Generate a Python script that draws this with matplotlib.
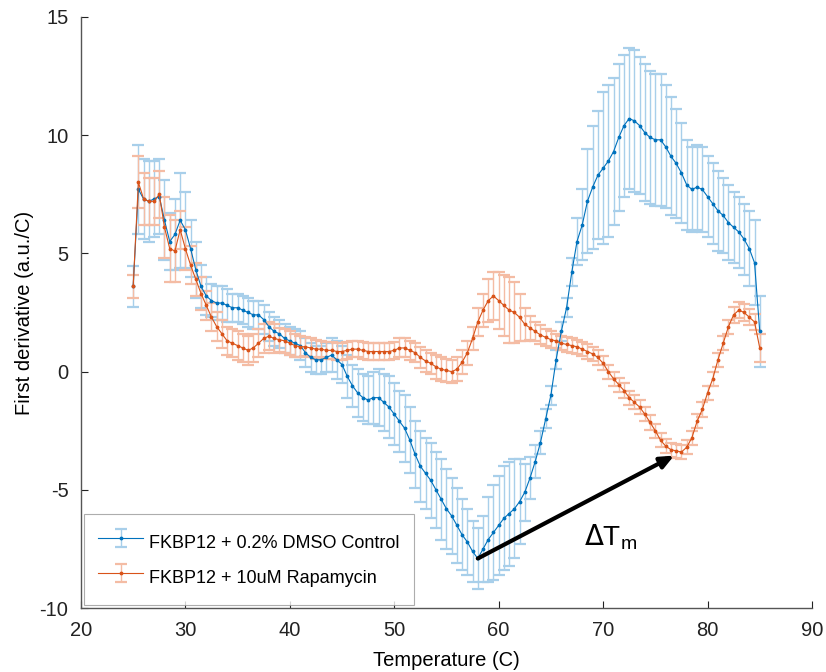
import numpy as np
import matplotlib
matplotlib.use("Agg")
import matplotlib.pyplot as plt

plt.rcParams['font.family'] = ['Liberation Sans', 'DejaVu Sans']
plt.rcParams['axes.unicode_minus'] = False

temperature = np.arange(25.0, 85.01, 0.5)

dmso_mean = [3.6, 7.7, 7.3, 7.2, 7.3, 7.4, 6.4, 5.5, 5.8, 6.4,
             6.0, 5.2, 4.3, 3.6, 3.2, 3.0, 2.9, 2.9, 2.8, 2.7,
             2.7, 2.6, 2.5, 2.4, 2.4, 2.2, 1.9, 1.7, 1.6, 1.4,
             1.3, 1.2, 1.1, 0.8, 0.6, 0.5, 0.5, 0.6, 0.7, 0.5,
             0.3, -0.2, -0.6, -0.9, -1.1, -1.2, -1.1, -1.1, -1.3, -1.5,
             -1.8, -2.1, -2.4, -2.9, -3.5, -4.0, -4.3, -4.6, -5.0, -5.4,
             -5.8, -6.1, -6.5, -6.9, -7.2, -7.6, -7.9, -7.5, -7.1, -6.8,
             -6.5, -6.2, -6.0, -5.8, -5.5, -5.1, -4.5, -3.8, -3.0, -2.0,
             -1.0, 0.5, 1.7, 2.7, 4.2, 5.5, 6.2, 7.2, 7.8, 8.3,
             8.6, 8.9, 9.3, 9.9, 10.4, 10.7, 10.6, 10.4, 10.1, 9.9,
             9.8, 9.8, 9.5, 9.1, 8.8, 8.4, 7.9, 7.7, 7.8, 7.7,
             7.4, 7.1, 6.8, 6.6, 6.3, 6.1, 5.9, 5.6, 5.2, 4.6,
             1.7]
dmso_err = [0.85, 1.9, 1.7, 1.7, 1.6, 1.6, 1.7, 1.2, 1.5, 2.0,
            1.6, 1.2, 1.2, 0.9, 0.8, 0.7, 0.7, 0.7, 0.7, 0.6,
            0.6, 0.6, 0.6, 0.6, 0.6, 0.6, 0.6, 0.6, 0.6, 0.6,
            0.6, 0.6, 0.6, 0.6, 0.6, 0.6, 0.6, 0.6, 0.7, 0.8,
            0.8, 0.9, 0.9, 1.0, 1.0, 1.0, 1.1, 1.2, 1.2, 1.3,
            1.3, 1.3, 1.4, 1.4, 1.4, 1.5, 1.5, 1.6, 1.6, 1.7,
            1.7, 1.6, 1.6, 1.5, 1.4, 1.3, 1.3, 1.4, 1.8, 2.0,
            2.1, 2.2, 2.2, 2.1, 1.8, 1.2, 0.9, 0.7, 0.5, 0.4,
            0.4, 0.4, 0.4, 0.4, 0.6, 1.0, 1.5, 2.2, 2.6, 2.7,
            3.2, 3.2, 3.1, 3.1, 3.0, 3.0, 3.0, 2.9, 2.9, 2.8,
            2.8, 2.8, 2.6, 2.5, 2.3, 2.1, 1.9, 1.8, 1.8, 1.8,
            1.7, 1.7, 1.7, 1.6, 1.6, 1.5, 1.5, 1.5, 1.6, 1.8,
            1.5]

rapa_mean = [3.6, 8.0, 7.3, 7.2, 7.2, 7.5, 6.1, 5.2, 5.1, 6.0,
             5.2, 4.5, 3.9, 3.3, 2.8, 2.3, 1.9, 1.6, 1.3, 1.2,
             1.1, 1.0, 0.9, 1.0, 1.2, 1.4, 1.5, 1.4, 1.35, 1.3,
             1.2, 1.1, 1.05, 1.05, 1.0, 0.95, 0.95, 0.9, 0.9, 0.85,
             0.85, 0.9, 0.95, 0.95, 0.9, 0.85, 0.85, 0.85, 0.85, 0.85,
             0.9, 1.0, 1.0, 0.9, 0.8, 0.6, 0.45, 0.35, 0.2, 0.1,
             0.05, 0.0, 0.1, 0.4, 0.8, 1.4, 2.1, 2.6, 3.0, 3.2,
             3.0, 2.8, 2.6, 2.5, 2.3, 2.0, 1.85, 1.7, 1.55, 1.45,
             1.35, 1.3, 1.2, 1.15, 1.1, 1.05, 0.95, 0.85, 0.75, 0.6,
             0.35, 0.0, -0.3, -0.55, -0.8, -1.1, -1.3, -1.5, -1.8, -2.15,
             -2.5, -2.9, -3.15, -3.3, -3.35, -3.4, -3.2, -2.8, -2.1, -1.6,
             -0.9, -0.3, 0.5, 1.2, 1.9, 2.4, 2.6, 2.5, 2.3, 2.1,
             1.0]
rapa_err = [0.5, 1.1, 1.1, 1.0, 1.0, 1.0, 1.3, 1.4, 1.3, 0.8,
            0.9, 0.8, 0.7, 0.7, 0.6, 0.6, 0.6, 0.6, 0.6, 0.6,
            0.6, 0.6, 0.6, 0.6, 0.6, 0.6, 0.6, 0.6, 0.5, 0.5,
            0.5, 0.5, 0.45, 0.4, 0.4, 0.4, 0.35, 0.35, 0.35, 0.35,
            0.35, 0.35, 0.35, 0.35, 0.35, 0.35, 0.35, 0.35, 0.35, 0.35,
            0.35, 0.4, 0.4, 0.4, 0.4, 0.45, 0.45, 0.45, 0.5, 0.5,
            0.5, 0.5, 0.5, 0.5, 0.5, 0.5, 0.6, 0.7, 0.9, 1.0,
            1.2, 1.3, 1.4, 1.3, 1.0, 0.7, 0.5, 0.4, 0.4, 0.35,
            0.35, 0.3, 0.3, 0.3, 0.3, 0.3, 0.3, 0.3, 0.3, 0.3,
            0.3, 0.3, 0.3, 0.3, 0.3, 0.3, 0.3, 0.3, 0.3, 0.3,
            0.3, 0.3, 0.3, 0.3, 0.3, 0.3, 0.3, 0.3, 0.3, 0.3,
            0.3, 0.3, 0.3, 0.3, 0.3, 0.35, 0.35, 0.35, 0.35, 0.35,
            0.6]

series_labels = ["FKBP12 + 0.2% DMSO Control", "FKBP12 + 10uM Rapamycin"]
x_ticks = [20, 30, 40, 50, 60, 70, 80, 90]
y_ticks = [-10, -5, 0, 5, 10, 15]

blue = '#0072BD'
blue_cap = '#1580C8'
blue_light = '#A8CFEA'
orange = '#D95319'
orange_cap = '#E0622A'
orange_light = '#F4BCA4'

fig = plt.figure(figsize=(8.26, 6.72), dpi=100)
ax = fig.add_axes([0.098, 0.095, 0.885, 0.88])

handles = []
for mean, err, c, cc, cl, lab in [(dmso_mean, dmso_err, blue, blue_cap, blue_light, series_labels[0]),
                                   (rapa_mean, rapa_err, orange, orange_cap, orange_light, series_labels[1])]:
    eb = ax.errorbar(temperature, mean, yerr=err, color=c, ecolor=cl,
                     elinewidth=1.0, capsize=4.5, capthick=1.6, lw=0.8,
                     marker='.', markersize=3.5, mfc=c, mec=c, label=lab)
    for cap in eb[1]:
        cap.set_color(cc)
    handles.append(eb)

ax.annotate('', xy=(76.8, -3.55), xytext=(58.0, -7.9),
            arrowprops=dict(arrowstyle='-|>,head_length=0.8,head_width=0.35',
                            color='black', lw=3, shrinkA=0, shrinkB=0))
ax.text(68.2, -7.0, r'$\Delta$T$_\mathregular{m}$', fontsize=20, ha='left', va='center')

ax.set_xlim(20, 90)
ax.set_ylim(-10, 15)
ax.set_xticks(x_ticks)
ax.set_yticks(y_ticks)
ax.tick_params(direction='in', length=5, labelsize=14.5, colors='#222222', pad=9)
for s in ['top', 'right']:
    ax.spines[s].set_visible(False)
for s in ['left', 'bottom']:
    ax.spines[s].set_color('#555555')
    ax.spines[s].set_linewidth(1.0)
ax.set_xlabel('Temperature (C)', fontsize=14.5, labelpad=8)
ax.set_ylabel('First derivative (a.u./C)', fontsize=14.5, labelpad=4)

leg = ax.legend(handles=handles, loc='lower left', fontsize=13, frameon=True,
                fancybox=False, edgecolor='#999999', borderaxespad=0.15,
                handlelength=2.5, handleheight=2.0, handletextpad=0.3,
                borderpad=0.8, labelspacing=0.4)
leg.get_frame().set_linewidth(0.8)

fig.savefig('out.png', dpi=100, facecolor='white')
